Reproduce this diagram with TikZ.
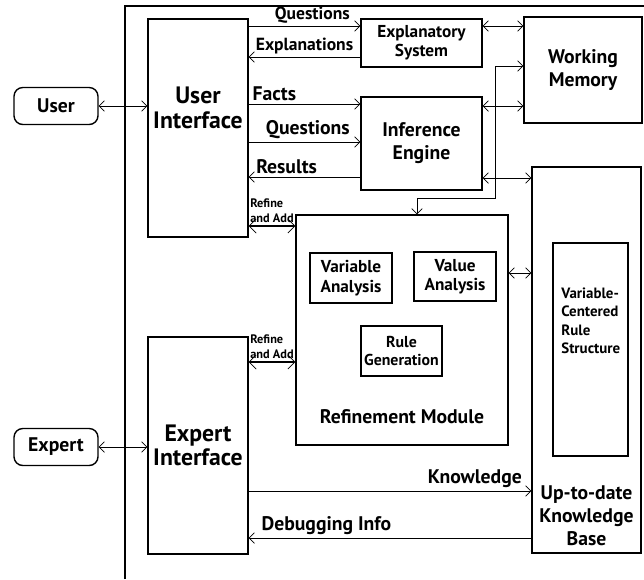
\documentclass[tikz,border=0pt]{standalone}
\usepackage{fontspec}
\setmainfont{PT Sans}
\usetikzlibrary{arrows.meta}

\begin{document}
\begin{tikzpicture}[x=0.02cm,y=-0.02cm,>={Straight Barb[length=3pt,width=6pt]},line width=0.4pt]
			\tikzstyle{box}=[draw,line width=0.8pt,inner sep=0pt,align=center,font=\bfseries\fontsize{11.2}{13}\selectfont]
			\tikzstyle{sbox}=[box,font=\bfseries\fontsize{9.8}{11}\selectfont]
			\tikzstyle{txt}=[inner sep=0pt,align=center,font=\bfseries\fontsize{11.2}{13}\selectfont]
			\tikzstyle{lbl}=[above,inner sep=1.5pt,font=\bfseries\fontsize{11.2}{13}\selectfont]
			\tikzstyle{tiny}=[above,inner sep=1pt,align=left,font=\bfseries\fontsize{7}{8.5}\selectfont]
			\tikzstyle{refine}=[<->,line width=1.6pt,>={Straight Barb[length=4pt,width=8pt,line width=0.4pt]}]

			\useasboundingbox (0,0) rectangle (644,579);
			\draw[line width=1.2pt] (125,579) -- (125,6) -- (644,6);

			\node[box,rounded corners=5pt,minimum width=1.68cm,minimum height=0.74cm] (User) at (56,106) {User};
			\node[box,rounded corners=5pt,minimum width=1.68cm,minimum height=0.74cm] (Expert) at (56,447) {Expert};
			\node[box,minimum width=2cm,minimum height=4.36cm] (UI) at (198,128) {};
			\node[txt,font=\bfseries\fontsize{13.5}{14}\selectfont] (UItxt) at (198,108) {User\\Interface};
			\node[box,minimum width=2cm,minimum height=4.34cm,font=\bfseries\fontsize{13.5}{14}\selectfont] (EI) at (198,445.5) {Expert\\Interface};
			\node[sbox,minimum width=2.42cm,minimum height=0.96cm] (ES) at (421.5,43) {Explanatory\\System};
			\node[box,minimum width=2.36cm,minimum height=2.12cm] (WM) at (583,70) {Working\\Memory};
			\node[box,minimum width=2.42cm,minimum height=1.86cm] (IE) at (421.5,143.5) {Inference\\Engine};
			\node[box,minimum width=2.18cm,minimum height=7.72cm] (KB) at (586.5,360) {};
			\node[txt] (KBtxt) at (586.5,516) {Up-to-date\\Knowledge\\Base};
			\node[box,minimum width=1.5cm,minimum height=4.26cm] (VCRS) at (590.5,349.5) {};
			\node[txt,anchor=west,align=left,font=\bfseries\fontsize{8.5}{10.5}\selectfont] (VCRStxt) at (561,321) {Variable-\\Centered\\Rule\\Structure};
			\node[box,minimum width=4.24cm,minimum height=4.6cm] (RM) at (402,330) {};
			\node[txt] (RMtxt) at (402,417) {Refinement Module};
			\node[sbox,minimum width=1.64cm,minimum height=1cm] (VA) at (351,278) {Variable\\Analysis};
			\node[sbox,minimum width=1.64cm,minimum height=0.98cm] (VLA) at (455,276.5) {Value\\Analysis};
			\node[sbox,minimum width=1.62cm,minimum height=1cm,font=\bfseries\fontsize{9}{10.5}\selectfont] (RG) at (401.5,351) {Rule\\Generation};

			\path[<->]
				(User) edge (UI.west |- User)
				(Expert) edge (EI.west |- Expert)
				(ES.east |- 0,26) edge (WM.west |- 0,26)
				(IE.east |- 0,106) edge (WM.west |- 0,106)
				(IE.east |- 0,178) edge (KB.west |- 0,178)
				(RM.east |- 0,273) edge (KB.west |- 0,273);

			\draw[->] (UI.east |- 0,26) -- node[lbl,pos=0.57,font=\bfseries\fontsize{10}{12}\selectfont] {Questions} (ES.west |- 0,26);
			\draw[->] (ES.west |- 0,57) -- node[lbl,pos=0.5,font=\bfseries\fontsize{10}{12}\selectfont] {Explanations} (UI.east |- 0,57);
			\draw[->] (UI.east |- 0,104) -- node[lbl,pos=0.23] {Facts} (IE.west |- 0,104);
			\draw[->] (UI.east |- 0,142) -- node[lbl,pos=0.53] {Questions} (IE.west |- 0,142);
			\draw[->] (IE.west |- 0,177) -- node[lbl,pos=0.66] {Results} (UI.east |- 0,177);
			\draw[<->] (RM.north -| 417,0) -- (417,198) -| (495,66) -- (WM.west |- 0,66);

			\draw[refine] (UI.east |- 0,226) -- node[tiny] {Refine\\and Add} (RM.west |- 0,226);
			\draw[refine] (EI.east |- 0,362) -- node[tiny] {Refine\\and Add} (RM.west |- 0,362);

			\draw[->] (EI.east |- 0,491) -- node[lbl,pos=0.8] {Knowledge} (KB.west |- 0,491);
			\draw[->] (KB.west |- 0,538) -- node[lbl,pos=0.725] {Debugging Info} (EI.east |- 0,538);
		\end{tikzpicture}
\end{document}
